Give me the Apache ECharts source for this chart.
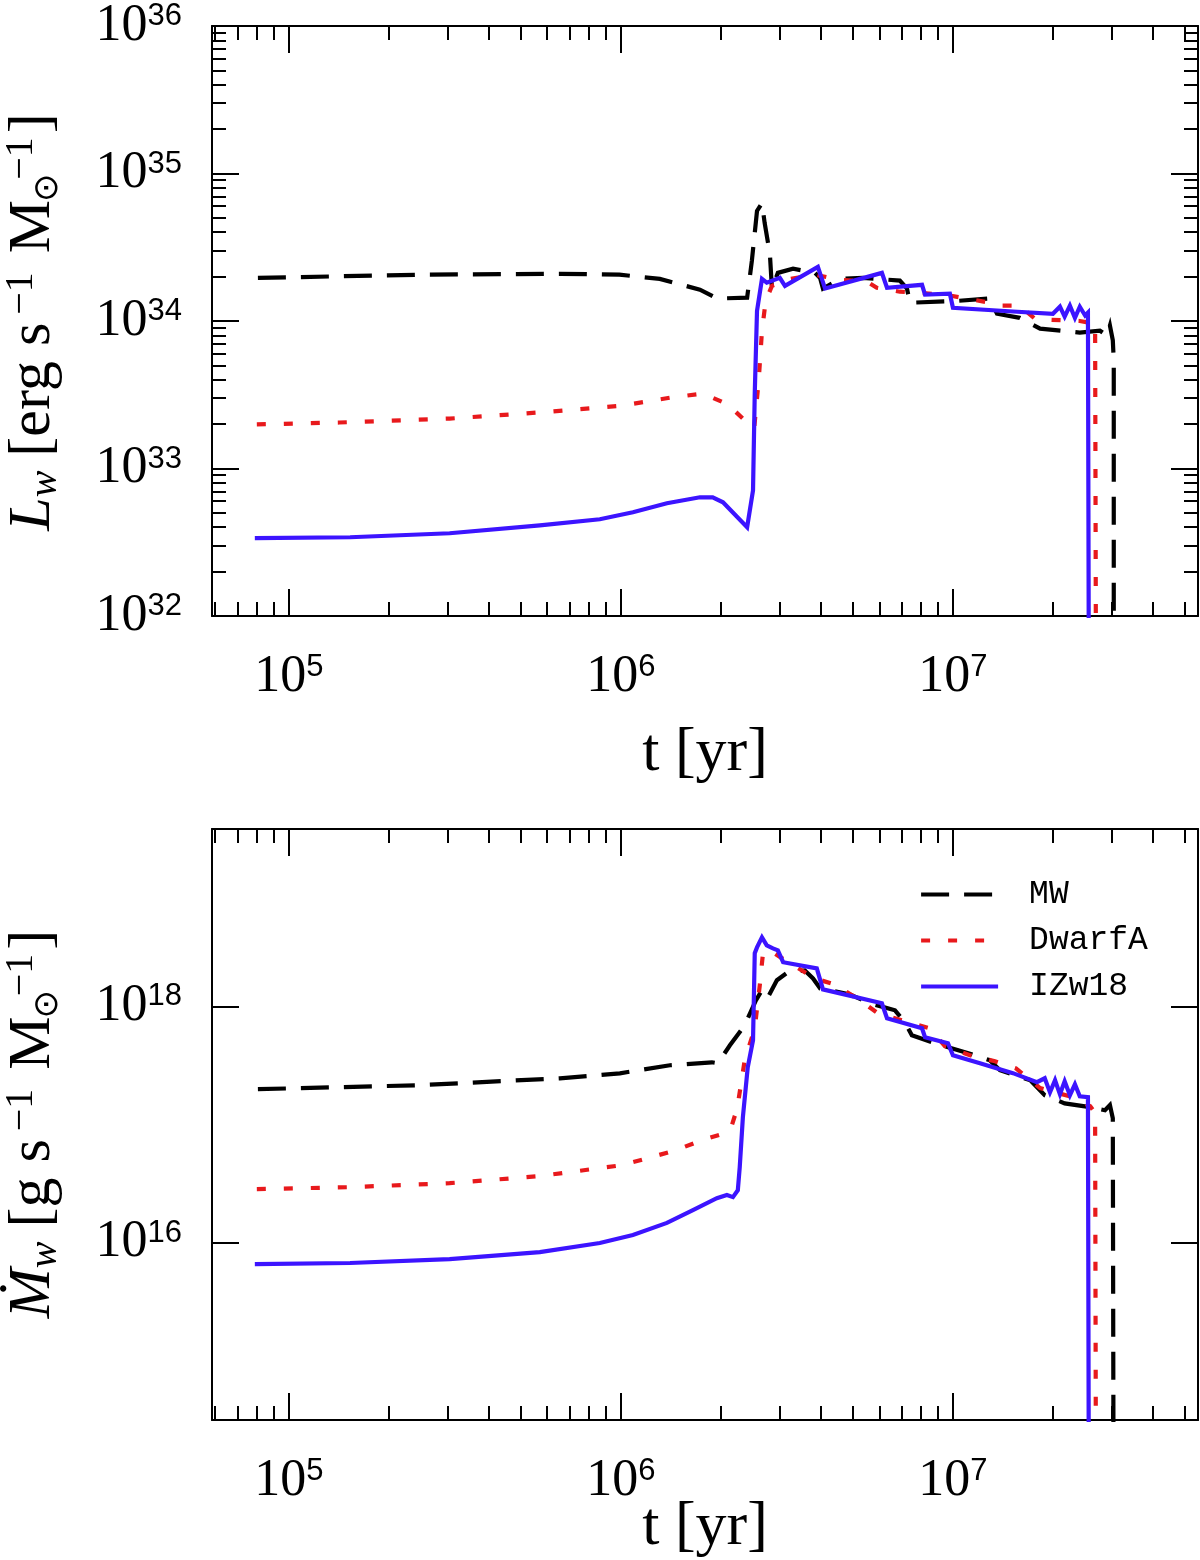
<!DOCTYPE html>
<html><head><meta charset="utf-8">
<script src="https://cdn.jsdelivr.net/npm/echarts@6/dist/echarts.min.js"></script>
<style>html,body{margin:0;padding:0;background:#fff}#c{width:1200px;height:1560px}</style>
</head><body><div id="c"></div>
<script>
// ---------------- data (t in yr, L_w in erg/s/Msun, Mdot_w in g/s/Msun) ----------------
const seriesNames = ['MW', 'DwarfA', 'IZw18'];

const mwTopT = [8.07e4, 2.48e5, 6.55e5, 9.9e5, 1.31e6, 1.73e6, 1.95e6, 2.40e6, 2.48e6, 2.57e6, 2.66e6, 2.71e6, 2.81e6, 2.85e6, 2.97e6, 3.30e6, 3.84e6, 3.98e6, 4.06e6, 4.57e6, 5.36e6, 6.92e6, 7.27e6, 7.42e6, 1.035e7, 1.29e7, 1.357e7, 1.59e7, 1.83e7, 2.41e7, 2.77e7, 2.91e7, 2.97e7, 3.03e7, 3.05e7, 3.05e7];
const mwTopL = [1.96e34, 2.06e34, 2.09e34, 2.06e34, 1.93e34, 1.63e34, 1.42e34, 1.44e34, 2.56e34, 5.57e34, 6.31e34, 4.62e34, 2.85e34, 1.66e34, 2.12e34, 2.26e34, 2.12e34, 1.96e34, 1.66e34, 1.93e34, 1.96e34, 1.88e34, 1.66e34, 1.33e34, 1.37e34, 1.42e34, 1.12e34, 1.05e34, 8.87e33, 8.34e33, 8.6e33, 7.96e33, 9.3e33, 7.4e33, 5.4e33, 1e31];

const dwTopT = [8.01e4, 1.42e5, 3.05e5, 5.70e5, 1.01e6, 1.42e6, 1.77e6, 2.10e6, 2.36e6, 2.52e6, 2.60e6, 2.66e6, 2.73e6, 2.85e6, 3.23e6, 3.84e6, 4.57e6, 5.51e6, 5.90e6, 6.92e6, 9.46e6, 1.29e7, 1.385e7, 1.59e7, 1.77e7, 2.41e7, 2.68e7, 2.70e7];
const dwTopL = [1.99e33, 2.05e33, 2.18e33, 2.40e33, 2.67e33, 3.03e33, 3.22e33, 2.72e33, 2.12e33, 1.87e33, 3.95e33, 8.59e33, 1.37e34, 1.73e34, 1.93e34, 2.06e34, 1.90e34, 1.85e34, 1.68e34, 1.58e34, 1.51e34, 1.33e34, 1.27e34, 1.27e34, 1.03e34, 1.00e34, 9.59e33, 1e31];

const izTopT = [7.90e4, 1.53e5, 3.05e5, 5.70e5, 8.64e5, 1.087e6, 1.376e6, 1.73e6, 1.89e6, 2.03e6, 2.40e6, 2.50e6, 2.53e6, 2.57e6, 2.66e6, 2.75e6, 3.01e6, 3.12e6, 3.92e6, 4.12e6, 6.11e6, 6.33e6, 8.07e6, 8.24e6, 9.79e6, 1.0e7, 1.516e7, 2.00e7, 2.10e7, 2.17e7, 2.25e7, 2.33e7, 2.41e7, 2.50e7, 2.55e7, 2.57e7];
const izTopL = [3.37e32, 3.42e32, 3.64e32, 4.12e32, 4.53e32, 5.05e32, 5.81e32, 6.38e32, 6.38e32, 5.90e32, 4.00e32, 7.11e32, 3.22e33, 1.17e34, 1.93e34, 1.82e34, 1.96e34, 1.73e34, 2.33e34, 1.66e34, 2.12e34, 1.68e34, 1.76e34, 1.51e34, 1.53e34, 1.23e34, 1.16e34, 1.12e34, 1.25e34, 1.07e34, 1.27e34, 1.05e34, 1.25e34, 1.09e34, 1.14e34, 1e31];

const mwBotT = [8.07e4, 2.48e5, 6.55e5, 9.93e5, 1.405e6, 1.88e6, 1.96e6, 2.13e6, 2.36e6, 2.55e6, 2.66e6, 2.77e6, 2.95e6, 3.18e6, 3.58e6, 3.79e6, 3.98e6, 4.90e6, 5.62e6, 6.69e6, 7.17e6, 7.52e6, 8.83e6, 1.087e7, 1.29e7, 1.385e7, 1.71e7, 1.89e7, 2.17e7, 2.59e7, 2.87e7, 2.97e7, 3.03e7, 3.05e7];
const mwBotM = [1.99e17, 2.15e17, 2.46e17, 2.71e17, 3.17e17, 3.36e17, 3.30e17, 4.68e17, 6.91e17, 1.12e18, 1.37e18, 1.19e18, 1.66e18, 1.94e18, 2.01e18, 1.72e18, 1.42e18, 1.26e18, 1.06e18, 9.25e17, 7.32e17, 5.69e17, 4.87e17, 4.09e17, 3.50e17, 2.88e17, 2.37e17, 1.77e17, 1.51e17, 1.40e17, 1.32e17, 1.46e17, 1.13e17, 1e13];

const dwBotT = [8.01e4, 1.53e5, 3.05e5, 5.70e5, 1.007e6, 1.206e6, 1.465e6, 1.754e6, 2.06e6, 2.145e6, 2.24e6, 2.36e6, 2.53e6, 2.62e6, 2.68e6, 2.81e6, 3.16e6, 3.84e6, 4.41e6, 5.25e6, 5.94e6, 6.69e6, 8.52e6, 9.46e6, 1.125e7, 1.338e7, 1.548e7, 1.83e7, 2.25e7, 2.59e7, 2.68e7, 2.70e7];
const dwBotM = [2.84e16, 2.95e16, 3.19e16, 3.66e16, 4.53e16, 5.19e16, 6.07e16, 7.37e16, 8.45e16, 9.31e16, 1.37e17, 3.50e17, 6.52e17, 1.51e18, 2.86e18, 2.97e18, 2.40e18, 1.72e18, 1.53e18, 1.12e18, 8.73e17, 7.92e17, 6.52e17, 4.59e17, 3.85e17, 3.43e17, 2.99e17, 2.03e17, 1.73e17, 1.43e17, 1.25e17, 1e13];

const izBotT = [7.90e4, 1.53e5, 3.05e5, 5.70e5, 8.64e5, 1.087e6, 1.376e6, 1.648e6, 1.945e6, 2.086e6, 2.175e6, 2.25e6, 2.28e6, 2.33e6, 2.41e6, 2.50e6, 2.53e6, 2.57e6, 2.66e6, 2.75e6, 2.87e6, 2.97e6, 3.08e6, 3.89e6, 4.06e6, 6.11e6, 6.33e6, 8.07e6, 8.24e6, 9.66e6, 1.0e7, 1.206e7, 1.516e7, 1.79e7, 1.89e7, 1.96e7, 2.03e7, 2.10e7, 2.17e7, 2.25e7, 2.33e7, 2.41e7, 2.55e7, 2.57e7];
const izBotM = [6.59e15, 6.73e15, 7.27e15, 8.33e15, 9.94e15, 1.16e16, 1.47e16, 1.89e16, 2.38e16, 2.53e16, 2.43e16, 2.78e16, 4.36e16, 1.15e17, 3.05e17, 5.16e17, 2.81e18, 3.15e18, 3.83e18, 3.28e18, 3.09e18, 2.97e18, 2.36e18, 2.09e18, 1.39e18, 1.06e18, 7.92e17, 6.52e17, 5.47e17, 4.87e17, 3.85e17, 3.30e17, 2.72e17, 2.28e17, 2.46e17, 1.87e17, 2.37e17, 1.80e17, 2.32e17, 1.77e17, 2.19e17, 1.73e17, 1.70e17, 1e13];

// axis ranges and ticks (physical units)
const tRange = [5.87e4, 5.47e7];
const lRange = [1e32, 1e36];
const mRange = [3.162e14, 3.162e19];
const tMajor = [1e5, 1e6, 1e7];
const tMinor = [6e4, 7e4, 8e4, 9e4, 2e5, 3e5, 4e5, 5e5, 6e5, 7e5, 8e5, 9e5, 2e6, 3e6, 4e6, 5e6, 6e6, 7e6, 8e6, 9e6, 2e7, 3e7, 4e7, 5e7];
const lMajor = [1e32, 1e33, 1e34, 1e35, 1e36];
const lMinor = [2e32,3e32,4e32,5e32,6e32,7e32,8e32,9e32, 2e33,3e33,4e33,5e33,6e33,7e33,8e33,9e33, 2e34,3e34,4e34,5e34,6e34,7e34,8e34,9e34, 2e35,3e35,4e35,5e35,6e35,7e35,8e35,9e35];
const mMajor = [1e16, 1e18];
const mMinor = [];

// ---------------- chart construction ----------------
const lg = v => Math.log10(v);
const lgAll = a => a.map(lg);
const pairs = (T, V) => T.map((t, i) => [lg(t), lg(V[i])]);

const SERIF = "'Liberation Serif','DejaVu Serif',serif";
const SANS = "'Liberation Sans','DejaVu Sans',sans-serif";
const MONO = "'Liberation Mono','DejaVu Sans Mono',monospace";

const colors = ['#000000', '#e8191c', '#3c14ff'];
const dashes = [[28, 15], [9, 18], 'solid'];

const tickRich = {
  b: {fontFamily: SERIF, fontSize: 52, lineHeight: 50, color: '#000'},
  s: {fontFamily: SANS, fontSize: 31, lineHeight: 30, verticalAlign: 'top', color: '#000'}
};
const powFmt = v => '{b|10}{s|' + Math.round(v) + '}';

function ax(gridIndex, position, range, ticks, len, extra) {
  return Object.assign({
    type: 'value', gridIndex: gridIndex, position: position,
    min: lg(range[0]), max: lg(range[1]),
    axisLine: {show: false, onZero: false},
    axisTick: {show: true, inside: true, length: len, customValues: lgAll(ticks),
      lineStyle: {color: '#000', width: 2}},
    axisLabel: {show: false},
    splitLine: {show: false}
  }, extra || {});
}
const lineOn = {show: true, onZero: false, lineStyle: {color: '#000', width: 2}};

const grids = [
  {left: 212, right: 2, top: 25, height: 591},
  {left: 212, right: 2, top: 829, height: 591}
];
const yRanges = [[lRange, lMajor, lMinor], [mRange, mMajor, mMinor]];

const xAxis = [], yAxis = [];
const mainX = [], mainY = [];
for (let g = 0; g < 2; g++) {
  mainX.push(xAxis.length);
  xAxis.push(ax(g, 'bottom', tRange, tMajor, 27, {
    axisLine: lineOn,
    axisLabel: {show: true, customValues: lgAll(tMajor), formatter: powFmt, rich: tickRich, margin: 36}
  }));
  xAxis.push(ax(g, 'bottom', tRange, tMinor, 14));
  xAxis.push(ax(g, 'top', tRange, tMajor, 27, {axisLine: lineOn}));
  xAxis.push(ax(g, 'top', tRange, tMinor, 14));
  const [yr, yM, ym] = yRanges[g];
  mainY.push(yAxis.length);
  yAxis.push(ax(g, 'left', yr, yM, 27, {
    axisLine: lineOn,
    axisLabel: {show: true, customValues: lgAll(yM), formatter: powFmt, rich: tickRich, margin: 30}
  }));
  yAxis.push(ax(g, 'right', yr, yM, 27, {axisLine: lineOn}));
  if (ym.length) {
    yAxis.push(ax(g, 'left', yr, ym, 14));
    yAxis.push(ax(g, 'right', yr, ym, 14));
  }
}

const panelData = [
  [pairs(mwTopT, mwTopL), pairs(dwTopT, dwTopL), pairs(izTopT, izTopL)],
  [pairs(mwBotT, mwBotM), pairs(dwBotT, dwBotM), pairs(izBotT, izBotM)]
];
const series = [];
for (let g = 0; g < 2; g++) {
  for (let s = 0; s < 3; s++) {
    series.push({
      name: seriesNames[s], type: 'line',
      xAxisIndex: mainX[g], yAxisIndex: mainY[g],
      data: panelData[g][s], symbol: 'none', showSymbol: false, smooth: false,
      clip: true, z: 2 + s,
      lineStyle: {color: colors[s], width: 4.2, type: dashes[s], cap: 'butt', join: 'miter'},
      itemStyle: {color: colors[s]}
    });
  }
}

const titleRich = {
  i: {fontFamily: SERIF, fontStyle: 'italic', fontSize: 60, lineHeight: 64, color: '#000'},
  sub: {fontFamily: SERIF, fontStyle: 'italic', fontSize: 40, lineHeight: 40, verticalAlign: 'bottom', color: '#000', padding: [0, 14, 0, 0]},
  r: {fontFamily: SERIF, fontSize: 60, lineHeight: 64, color: '#000'},
  sup: {fontFamily: SERIF, fontSize: 40, lineHeight: 40, verticalAlign: 'top', color: '#000', padding: [0, 4, 0, 8]},
  od: {fontFamily: "'DejaVu Sans',sans-serif", fontSize: 34, lineHeight: 34, verticalAlign: 'bottom', width: 0, color: '#000', padding: [0, 0, 0, 12]}
};
const yTitleTop = '{i|L}{sub|w}{r|[erg s}{sup|\u22121}{r| M}{od|\u2299}{sup|\u22121}{r|]}';
const yTitleBot = '{i|\u1E40}{sub|w}{r|[g s}{sup|\u22121}{r| M}{od|\u2299}{sup|\u22121}{r|]}';

const option = {
  animation: false,
  backgroundColor: '#fff',
  grid: grids,
  xAxis: xAxis,
  yAxis: yAxis,
  series: series,
  legend: {
    data: seriesNames, orient: 'vertical', left: 919, top: 878, padding: 0,
    itemWidth: 77, itemHeight: 14, itemGap: 13, selectedMode: false,
    itemStyle: {opacity: 0},
    lineStyle: {width: 4.2},
    textStyle: {fontFamily: MONO, fontSize: 33, color: '#000', padding: [0, 0, 0, 26]}
  },
  graphic: [
    {type: 'text', x: 33, y: 322, rotation: Math.PI / 2,
     style: {text: yTitleTop, rich: titleRich, align: 'center', verticalAlign: 'middle', fill: '#000'}},
    {type: 'text', x: 33, y: 1124, rotation: Math.PI / 2,
     style: {text: yTitleBot, rich: titleRich, align: 'center', verticalAlign: 'middle', fill: '#000'}},
    {type: 'text', x: 705, y: 754,
     style: {text: 't [yr]', font: "62px 'Liberation Serif', serif", align: 'center', verticalAlign: 'middle', fill: '#000'}},
    {type: 'text', x: 705, y: 1528,
     style: {text: 't [yr]', font: "62px 'Liberation Serif', serif", align: 'center', verticalAlign: 'middle', fill: '#000'}}
  ]
};
const chart = echarts.init(document.getElementById('c'), null, {renderer: 'canvas'});
chart.setOption(option);
</script></body></html>
